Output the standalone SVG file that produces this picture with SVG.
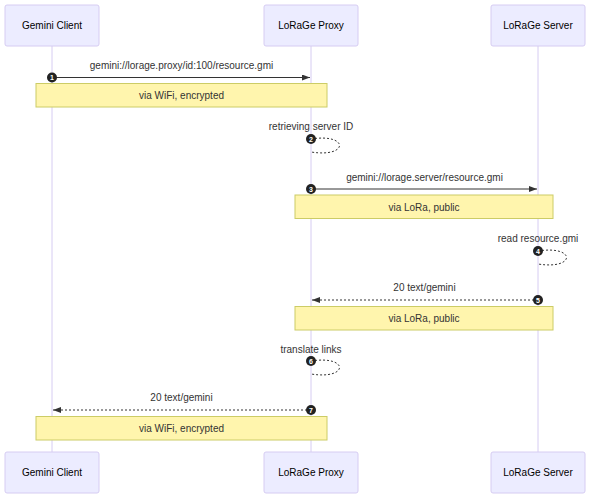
<svg xmlns="http://www.w3.org/2000/svg" width="590" height="499" viewBox="0 0 590 499">
<defs>
<style>
.actor{fill:#ECECFF;stroke:#D6CCF2;stroke-width:1}
.life{stroke:#D6CCF2;stroke-width:1}
.at{font-family:"Liberation Sans",Arial,sans-serif;font-size:10px;fill:#000;text-anchor:middle}
.mt{font-family:"Liberation Sans",Arial,sans-serif;font-size:10px;fill:#333;text-anchor:middle}
.note{fill:#FFF5AD;stroke:#CCCC66;stroke-width:1}
.nt{font-family:"Liberation Sans",Arial,sans-serif;font-size:10px;fill:#333;text-anchor:middle}
.msg{stroke:#333;stroke-width:1;fill:none}
.dot{stroke:#333;stroke-width:1;fill:none;stroke-dasharray:2,2}
.seq{fill:#222}
.sn{font-family:"Liberation Sans",Arial,sans-serif;font-size:7px;font-weight:bold;fill:#fff;text-anchor:middle}
</style>
<marker id="arrow" viewBox="0 0 8 6" refX="8" refY="3" markerWidth="8" markerHeight="6" markerUnits="userSpaceOnUse" orient="auto">
<path d="M0,0 L8,3 L0,6 Z" fill="#333"/>
</marker>
</defs>
<g id="lifelines">
<line class="life" x1="52" y1="46" x2="52" y2="452"/>
<line class="life" x1="311" y1="46" x2="311" y2="452"/>
<line class="life" x1="538" y1="46" x2="538" y2="452"/>
</g>
<g id="actor-client-top"><rect class="actor" x="5" y="5" width="94" height="41" rx="2"/><text class="at" x="52" y="29">Gemini Client</text></g>
<g id="actor-proxy-top"><rect class="actor" x="264" y="5" width="94" height="41" rx="2"/><text class="at" x="311" y="29">LoRaGe Proxy</text></g>
<g id="actor-server-top"><rect class="actor" x="491" y="5" width="94" height="41" rx="2"/><text class="at" x="538" y="29">LoRaGe Server</text></g>
<g id="actor-client-bottom"><rect class="actor" x="5" y="452" width="94" height="41" rx="2"/><text class="at" x="52" y="476">Gemini Client</text></g>
<g id="actor-proxy-bottom"><rect class="actor" x="264" y="452" width="94" height="41" rx="2"/><text class="at" x="311" y="476">LoRaGe Proxy</text></g>
<g id="actor-server-bottom"><rect class="actor" x="491" y="452" width="94" height="41" rx="2"/><text class="at" x="538" y="476">LoRaGe Server</text></g>
<g id="connectors">
<line class="msg" x1="52" y1="77.5" x2="310" y2="77.5" marker-end="url(#arrow)"/>
<path class="dot" d="M311,139 C349,133 349,158 311,152"/>
<line class="msg" x1="311" y1="189" x2="537" y2="189" marker-end="url(#arrow)"/>
<path class="dot" d="M538,251 C576,245 576,270 538,264"/>
<line class="dot" x1="538" y1="300" x2="312" y2="300" marker-end="url(#arrow)"/>
<path class="dot" d="M311,361 C349,355 349,380 311,374"/>
<line class="dot" x1="311" y1="410" x2="53" y2="410" marker-end="url(#arrow)"/>
</g>
<g id="message-labels">
<text class="mt" x="181.5" y="68.5">gemini://lorage.proxy/id:100/resource.gmi</text>
<text class="mt" x="311" y="129.5">retrieving server ID</text>
<text class="mt" x="424.5" y="180.5">gemini://lorage.server/resource.gmi</text>
<text class="mt" x="538" y="241.5">read resource.gmi</text>
<text class="mt" x="424.5" y="290.5">20 text/gemini</text>
<text class="mt" x="311" y="352.5">translate links</text>
<text class="mt" x="181.5" y="400.5">20 text/gemini</text>
</g>
<g id="note-1"><rect class="note" x="36" y="83.5" width="291" height="23.5"/><text class="nt" x="181.5" y="99">via WiFi, encrypted</text></g>
<g id="note-2"><rect class="note" x="295" y="195" width="258" height="23.5"/><text class="nt" x="424" y="210.5">via LoRa, public</text></g>
<g id="note-3"><rect class="note" x="295" y="306.5" width="258" height="23.5"/><text class="nt" x="424" y="322">via LoRa, public</text></g>
<g id="note-4"><rect class="note" x="36" y="416.5" width="291" height="23.5"/><text class="nt" x="181.5" y="432">via WiFi, encrypted</text></g>
<g id="sequence-numbers">
<circle class="seq" cx="52" cy="77.5" r="5"/><text class="sn" x="52" y="80">1</text>
<circle class="seq" cx="311" cy="139" r="5"/><text class="sn" x="311" y="141.5">2</text>
<circle class="seq" cx="311" cy="189" r="5"/><text class="sn" x="311" y="191.5">3</text>
<circle class="seq" cx="538" cy="251" r="5"/><text class="sn" x="538" y="253.5">4</text>
<circle class="seq" cx="538" cy="300" r="5"/><text class="sn" x="538" y="302.5">5</text>
<circle class="seq" cx="311" cy="361" r="5"/><text class="sn" x="311" y="363.5">6</text>
<circle class="seq" cx="311" cy="410" r="5"/><text class="sn" x="311" y="412.5">7</text>
</g>
</svg>
